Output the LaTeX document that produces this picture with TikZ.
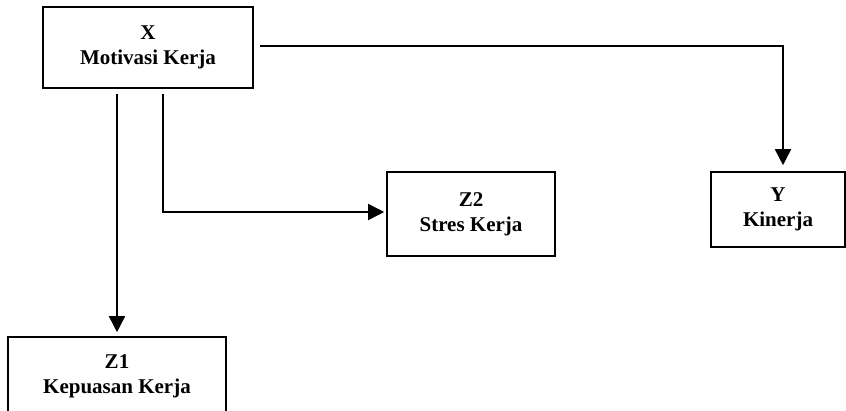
\documentclass[tikz,border=0pt]{standalone}
\usepackage{fontspec}
\setmainfont{Liberation Serif}
\usetikzlibrary{arrows.meta}

\begin{document}
\begin{tikzpicture}[x=1pt,y=-1pt,
  var/.style={draw,line width=1.6pt,align=center,inner sep=0pt,
    font=\fontsize{21}{25}\selectfont\bfseries},
  arr/.style={line width=1.6pt,-{Triangle[length=16pt,width=16pt]}}]
\useasboundingbox (0,0) rectangle (846,410);
\clip (0,0) rectangle (846,410);
\node[var,minimum width=210pt,minimum height=81pt] (X) at (148,47.5) {X\\Motivasi Kerja};
\node[var,minimum width=168pt,minimum height=84pt] (Z2) at (471,214) {Z2\\Stres Kerja};
\node[var,minimum width=134pt,minimum height=75pt] (Y) at (778,209.5) {Y\\Kinerja};
\node[var,minimum width=218pt,minimum height=78pt] (Z1) at (117,376) {Z1\\Kepuasan Kerja};
\draw[arr,shorten <=5pt,shorten >=4pt] (Z1.north |- X.south) -- (Z1.north);
\draw[arr,shorten <=5pt,shorten >=2pt] ([xshift=15pt]X.south) |- ([yshift=2pt]Z2.west);
\draw[arr,shorten <=6pt,shorten >=6pt] ([yshift=1.5pt]X.east) -| ([xshift=5pt]Y.north);
\end{tikzpicture}
\end{document}
